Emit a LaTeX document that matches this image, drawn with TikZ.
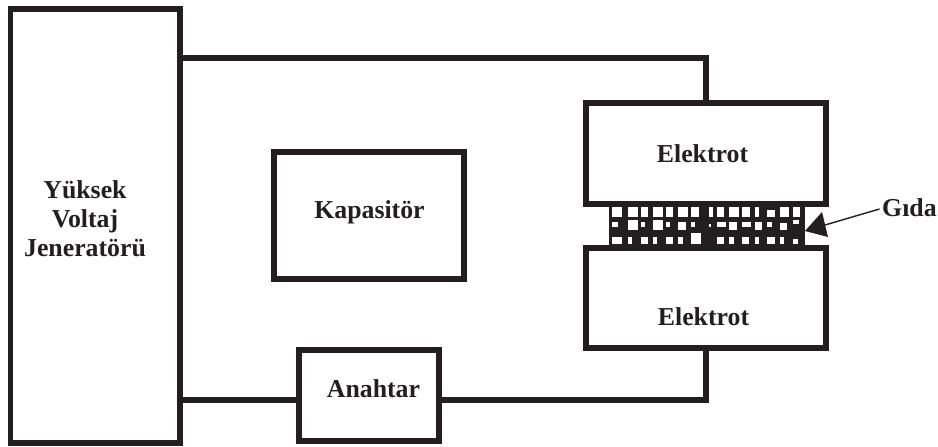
\documentclass[tikz,border=0pt]{standalone}
\usepackage{fontspec}
\setmainfont{Liberation Serif}
\definecolor{ink}{HTML}{231F20}
\begin{document}
\begin{tikzpicture}[x=1pt,y=-1pt,
  blockbox/.style={draw=ink,line width=5.6pt,fill=white,rectangle,inner sep=0pt},
  lbl/.style={font=\fontsize{25.8}{29}\selectfont\bfseries,text=ink,align=center,anchor=base,inner sep=0pt},
  wire/.style={draw=ink,line width=5.6pt},
  hole/.style={fill=white,draw=none}]
\useasboundingbox (0,0) rectangle (938,447);
\fill[white] (0,0) rectangle (938,447);
\node[blockbox,minimum width=169.5pt,minimum height=434pt] (gen) at (95.25,226) {};
\node[blockbox,minimum width=190pt,minimum height=127pt] (kap) at (369,215.5) {};
\node[blockbox,minimum width=140pt,minimum height=91pt] (ana) at (369,395.5) {};
% wires
\coordinate (gt) at (gen.east |- 0,58);
\coordinate (gb) at (gen.east |- 0,400);
% food band
\fill[ink] (609,204) rectangle (805,248);
\foreach \a/\b/\c/\d in {
 67/97/52/80,113/143/52/80,152/173/52/80,190/218/52/80,227/250/52/80,265/295/52/80,304/327/52/80,357/370/52/80,380/402/52/80,418/447/52/80,456/480/52/80,494/507/52/80,532/555/60/80,570/597/52/80,608/630/52/80,
 67/85/97/112,113/143/90/120,152/165/97/112,190/218/90/120,227/240/97/112,265/288/97/120,304/316/97/112,357/364/102/112,380/408/97/112,418/440/97/120,456/484/97/112,494/516/97/120,532/547/97/112,570/590/100/120,608/627/90/103,
 67/97/140/163,113/126/140/163,152/173/140/163,190/202/140/163,227/250/140/163,265/278/140/163,304/332/130/163,380/402/140/163,418/431/140/163,456/478/140/163,494/507/140/163,532/555/140/163,570/582/140/163,608/625/147/163}
  {\fill[hole] ({590+\a/3},{190+\c/3}) rectangle ({590+\b/3},{190+\d/3});}
\node[blockbox,minimum width=240pt,minimum height=101pt] (e1) at (706,153.5) {};
\node[blockbox,minimum width=240pt,minimum height=100pt] (e2) at (706,298) {};
\draw[wire] (gt) -| (e1.north);
\draw[wire] (gb) -- (ana.west |- gb);
\draw[wire] (ana.east |- gb) -| (e2.south);
% texts
\node[lbl] (t1) at (85,198) {Yüksek};
\node[lbl] (t2) at (85,227) {Voltaj};
\node[lbl] (t3) at (85,256) {Jeneratörü};
\node[lbl] (t4) at (369.5,218) {Kapasitör};
\node[lbl] (t5) at (373.5,397) {Anahtar};
\node[lbl] (t6) at (702.5,162) {Elektrot};
\node[lbl] (t7) at (703.5,325) {Elektrot};
\node[lbl,anchor=base west] (gida) at (882,216) {Gıda};
% label arrow
\coordinate (tip) at (805,231);
\coordinate (lineend) at (879.5,209);
\draw[ink,line width=1.4pt] (lineend) -- (825,225);
\fill[ink] (tip) -- (822,212) -- (828,237) -- cycle;
\end{tikzpicture}
\end{document}
